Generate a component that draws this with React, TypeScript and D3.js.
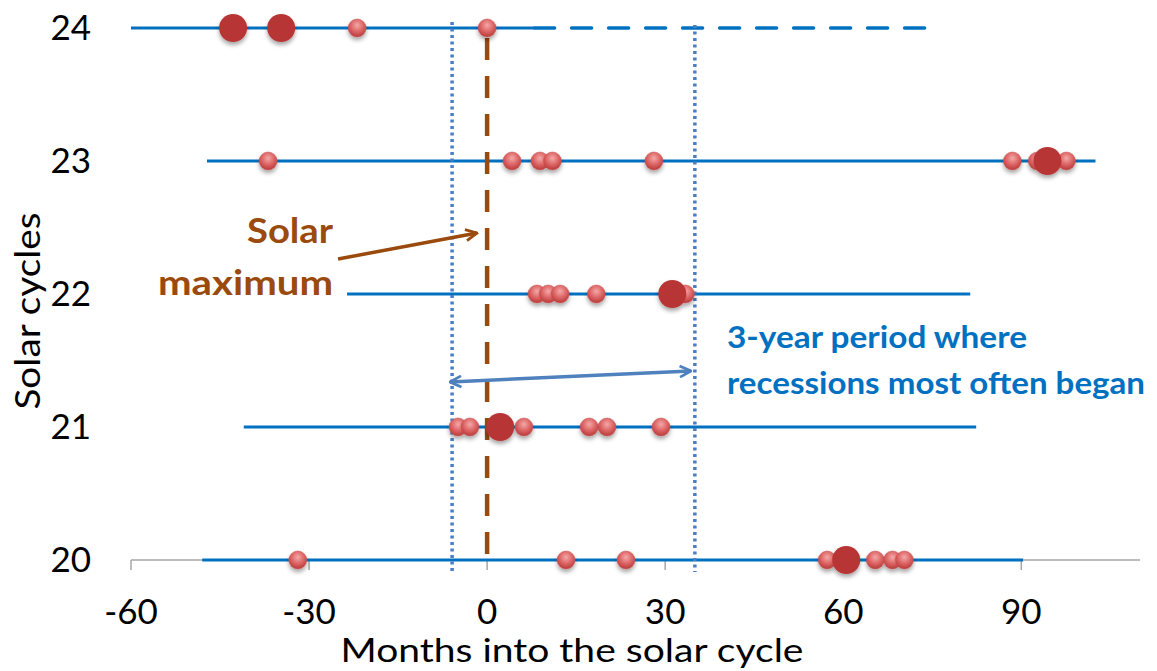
import React from "react";
import * as d3 from "d3";

const cycles = [20, 21, 22, 23, 24];
const lineStart = [-48, -41, -23.6, -47.2, -60];
const lineEnd = [90.3, 82.4, 81.4, 102.5, 8];
const projectedEnd24 = 73.8;
const smallDots: number[][] = [
  [-31.9, 13.3, 23.4, 57.3, 65.4, 68.3, 70.3],
  [-4.9, -2.9, 6.2, 17.2, 20.2, 29.3],
  [8.4, 10.3, 12.3, 18.4, 33.4],
  [-36.9, 4.2, 8.9, 11, 28.1, 88.5, 92.7, 97.6],
  [-21.9, 0],
];
const bigDots: number[][] = [[60.5], [2.2], [31.2], [94.4], [-42.8, -34.7]];
const xTicks = [-60, -30, 0, 30, 60, 90];
const periodStart = -5.9;
const periodEnd = 35;
const solarMax = 0;

const W = 1157;
const H = 671;
const FONT = "Lato, 'Open Sans', sans-serif";

export default function App() {
  const x = d3.scaleLinear().domain([-60, 110]).range([131, 1140]);
  const y = d3.scaleLinear().domain([20, 24]).range([560, 28]);
  const blue = "#0070C0";
  const brown = "#9A4A0C";
  const dotBlue = "#4A7EC6";

  return (
    <svg width={W} height={H} style={{ position: "absolute", left: 0, top: 0, background: "#fff" }}>
      <defs>
        <radialGradient id="sg" cx="50%" cy="35%" r="65%">
          <stop offset="0%" stopColor="#F4A8A8" />
          <stop offset="55%" stopColor="#DC6464" />
          <stop offset="100%" stopColor="#B83A3A" />
        </radialGradient>
        <filter id="sh" x="-50%" y="-50%" width="200%" height="200%">
          <feDropShadow dx="0" dy="3" stdDeviation="2" floodColor="#000" floodOpacity="0.35" />
        </filter>
        <marker id="ab" viewBox="0 0 10 10" refX="9" refY="5" markerWidth="4" markerHeight="4" orient="auto-start-reverse">
          <path d="M1,1 L9,5 L1,9" fill="none" stroke={brown} strokeWidth="2" />
        </marker>
        <marker id="ablue" viewBox="0 0 10 10" refX="9" refY="5" markerWidth="4" markerHeight="4" orient="auto-start-reverse">
          <path d="M1,1 L9,5 L1,9" fill="none" stroke="#4F81BD" strokeWidth="2" />
        </marker>
      </defs>

      {/* x axis */}
      <line x1={x(-60)} x2={x(110)} y1={y(20)} y2={y(20)} stroke="#A6A6A6" strokeWidth={1.5} />
      {xTicks.map((t) => (
        <g key={t}>
          <line x1={x(t)} x2={x(t)} y1={y(20)} y2={y(20) + 10} stroke="#A6A6A6" strokeWidth={1.5} />
          <text x={x(t)} y={y(20) + 64} textAnchor="middle" fontFamily={FONT} fontSize={35} fill="#000">
            {t}
          </text>
        </g>
      ))}
      {cycles.map((c) => (
        <text key={c} x={91} y={y(c) + 12} textAnchor="end" fontFamily={FONT} fontSize={35} fill="#000">
          {c}
        </text>
      ))}
      <text x={572} y={662} textAnchor="middle" fontFamily={FONT} fontSize={33} fill="#000" textLength={463} lengthAdjust="spacingAndGlyphs">
        Months into the solar cycle
      </text>
      <text transform={`translate(40,311) rotate(-90)`} textAnchor="middle" fontFamily={FONT} fontSize={34} fill="#000" textLength={197} lengthAdjust="spacingAndGlyphs">
        Solar cycles
      </text>

      {/* cycle lines */}
      {cycles.map((c, i) => (
        <line key={c} x1={x(lineStart[i])} x2={x(lineEnd[i])} y1={y(c)} y2={y(c)} stroke={blue} strokeWidth={3} />
      ))}
      <line x1={x(lineEnd[4])} x2={x(projectedEnd24)} y1={y(24)} y2={y(24)} stroke={blue} strokeWidth={3.5} strokeDasharray="20,17" strokeLinecap="round" />

      {/* period lines */}
      <line x1={x(periodStart)} x2={x(periodStart)} y1={22} y2={572} stroke={dotBlue} strokeWidth={3.5} strokeDasharray="3,3.5" />
      <line x1={x(periodEnd)} x2={x(periodEnd)} y1={25} y2={572} stroke={dotBlue} strokeWidth={3.5} strokeDasharray="3,3.5" />

      {/* solar max */}
      <line x1={x(solarMax)} x2={x(solarMax)} y1={38} y2={560} stroke={brown} strokeWidth={4.5} strokeDasharray="22,16" />

      {/* dots */}
      {cycles.map((c, i) => (
        <g key={c} filter="url(#sh)">
          {smallDots[i].map((v, j) => (
            <circle key={"s" + j} cx={x(v)} cy={y(c)} r={9} fill="url(#sg)" stroke="#C85050" strokeWidth={0.5} />
          ))}
          {bigDots[i].map((v, j) => (
            <circle key={"b" + j} cx={x(v)} cy={y(c)} r={14} fill="#B83636" />
          ))}
        </g>
      ))}

      {/* annotations */}
      <text x={333} y={243} textAnchor="end" fontFamily={FONT} fontWeight="bold" fontSize={35} fill={brown} textLength={86} lengthAdjust="spacingAndGlyphs">
        Solar
      </text>
      <text x={333} y={295} textAnchor="end" fontFamily={FONT} fontWeight="bold" fontSize={35} fill={brown} textLength={175} lengthAdjust="spacingAndGlyphs">
        maximum
      </text>
      <line x1={338} y1={259} x2={477} y2={233} stroke={brown} strokeWidth={3.5} markerEnd="url(#ab)" />

      <line x1={450} y1={382} x2={691} y2={371} stroke="#4F81BD" strokeWidth={3.5} markerEnd="url(#ablue)" markerStart="url(#ablue)" />
      <text x={727} y={348} fontFamily={FONT} fontWeight="bold" fontSize={30} fill={blue} textLength={300} lengthAdjust="spacingAndGlyphs">
        3-year period where
      </text>
      <text x={727} y={394} fontFamily={FONT} fontWeight="bold" fontSize={30} fill={blue} textLength={418} lengthAdjust="spacingAndGlyphs">
        recessions most often began
      </text>
    </svg>
  );
}
